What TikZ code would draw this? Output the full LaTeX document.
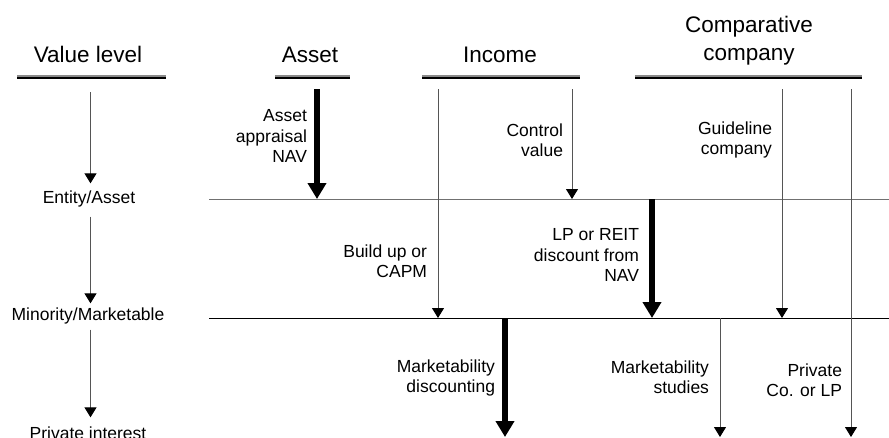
\documentclass[tikz,border=0pt]{standalone}
\usepackage{fontspec}
\setmainfont{Liberation Sans}
\usetikzlibrary{positioning, arrows.meta, calc}
\definecolor{rulegray}{HTML}{8A8A8A}
\definecolor{linegray}{HTML}{555555}
\definecolor{tiergray}{HTML}{707070}

\begin{document}
\begin{tikzpicture}[
      x=1pt, y=-1pt,
      every node/.style={inner sep=0pt, outer sep=0pt},
      head/.style={font=\fontsize{22.5}{28}\selectfont, align=center},
      lvl/.style={font=\fontsize{17.5}{20.5}\selectfont, anchor=base},
      note/.style={font=\fontsize{17.5}{20.5}\selectfont, align=right, anchor=east},
      headrule/.style={draw=black, line width=2pt,
        preaction={draw=rulegray, line width=1.5pt, transform canvas={yshift=2pt}}},
      tier/.style={line width=1pt},
      thinarrow/.style={draw=linegray, line width=1pt,
        -{Triangle[width=12pt, length=10pt, color=black]}},
      thickarrow/.style={draw=black, line width=6pt,
        -{Triangle[width=18pt, length=16pt]}},
    ]
    \useasboundingbox (0,0) rectangle (889,437);

    % column heads
    \node[head, anchor=base] (hvalue) at (88,62) {Value level};
    \node[head, anchor=base] (hasset) at (310,62) {Asset};
    \node[head, anchor=base] (hincome) at (500,62) {Income};
    \node[head] (hcomp) at (749,41) {Comparative\\company};
    \draw[headrule] (17,78) -- (166,78);
    \draw[headrule] (275,78) -- (350,78);
    \draw[headrule] (422,78) -- (580,78);
    \draw[headrule] (635,78) -- (862,78);

    % value levels
    \coordinate (vltop) at (90.5,92);
    \node[lvl] (entity) at (89,203) {Entity/Asset};
    \node[lvl] (minority) at (88,320) {Minority/Marketable};
    \node[lvl] (private) at (88,439) {Private interest};
    \draw[thinarrow, shorten >=7pt] (vltop) -- (entity.north -| vltop);
    \draw[thinarrow, shorten <=10pt, shorten >=4pt] (entity.south -| vltop) -- (minority.north -| vltop);
    \draw[thinarrow, shorten <=6pt, shorten >=9pt] (minority.south -| vltop) -- (private.north -| vltop);

    % tiers
    \coordinate (tier1w) at (209,199);
    \coordinate (tier1e) at (889,199);
    \coordinate (tier2w) at (209,318);
    \coordinate (tier2e) at (889,318);
    \draw[tier, draw=tiergray] (tier1w) -- (tier1e);
    \draw[tier, draw=black] (tier2w) -- (tier2e);

    % arrow ends
    \coordinate (asset0) at (317,89);
    \coordinate (asset1) at (asset0 |- tier1w);
    \coordinate (build0) at (438,89);
    \coordinate (build1) at (build0 |- tier2w);
    \coordinate (control0) at (572,89);
    \coordinate (control1) at (control0 |- tier1w);
    \coordinate (lpreit0) at (652,199);
    \coordinate (lpreit1) at (lpreit0 |- tier2w);
    \coordinate (mktdisc0) at (505,318);
    \coordinate (mktdisc1) at (505,437);
    \coordinate (guide0) at (782,89);
    \coordinate (guide1) at (guide0 |- tier2w);
    \coordinate (mktstud0) at (720,318);
    \coordinate (mktstud1) at (720,437);
    \coordinate (privco0) at (851,89);
    \coordinate (privco1) at (851,437);

    \draw[thickarrow] (asset0) -- (asset1);
    \draw[thinarrow] (build0) -- (build1);
    \draw[thinarrow] (control0) -- (control1);
    \draw[thickarrow] (lpreit0) -- (lpreit1);
    \draw[thickarrow] (mktdisc0) -- (mktdisc1);
    \draw[thinarrow] (guide0) -- (guide1);
    \draw[thinarrow] (mktstud0) -- (mktstud1);
    \draw[thinarrow] (privco0) -- (privco1);

    % method labels
    \node[note] (nasset) at (307,136) {Asset\\appraisal\\NAV};
    \node[note] (ncontrol) at (563,140) {Control\\value};
    \node[note] (nguide) at (772,140) {Guideline\\company};
    \node[note] (nbuild) at (427,261) {Build up or\\CAPM};
    \node[note] (nlpreit) at (639,255) {LP or REIT\\discount from\\NAV};
    \node[note] (nmktdisc) at (495,378) {Marketability\\discounting};
    \node[note] (nmktstud) at (709,377) {Marketability\\studies};
    \node[note] (nprivco) at (842,380) {Private\\Co. or LP};
  \end{tikzpicture}
\end{document}
